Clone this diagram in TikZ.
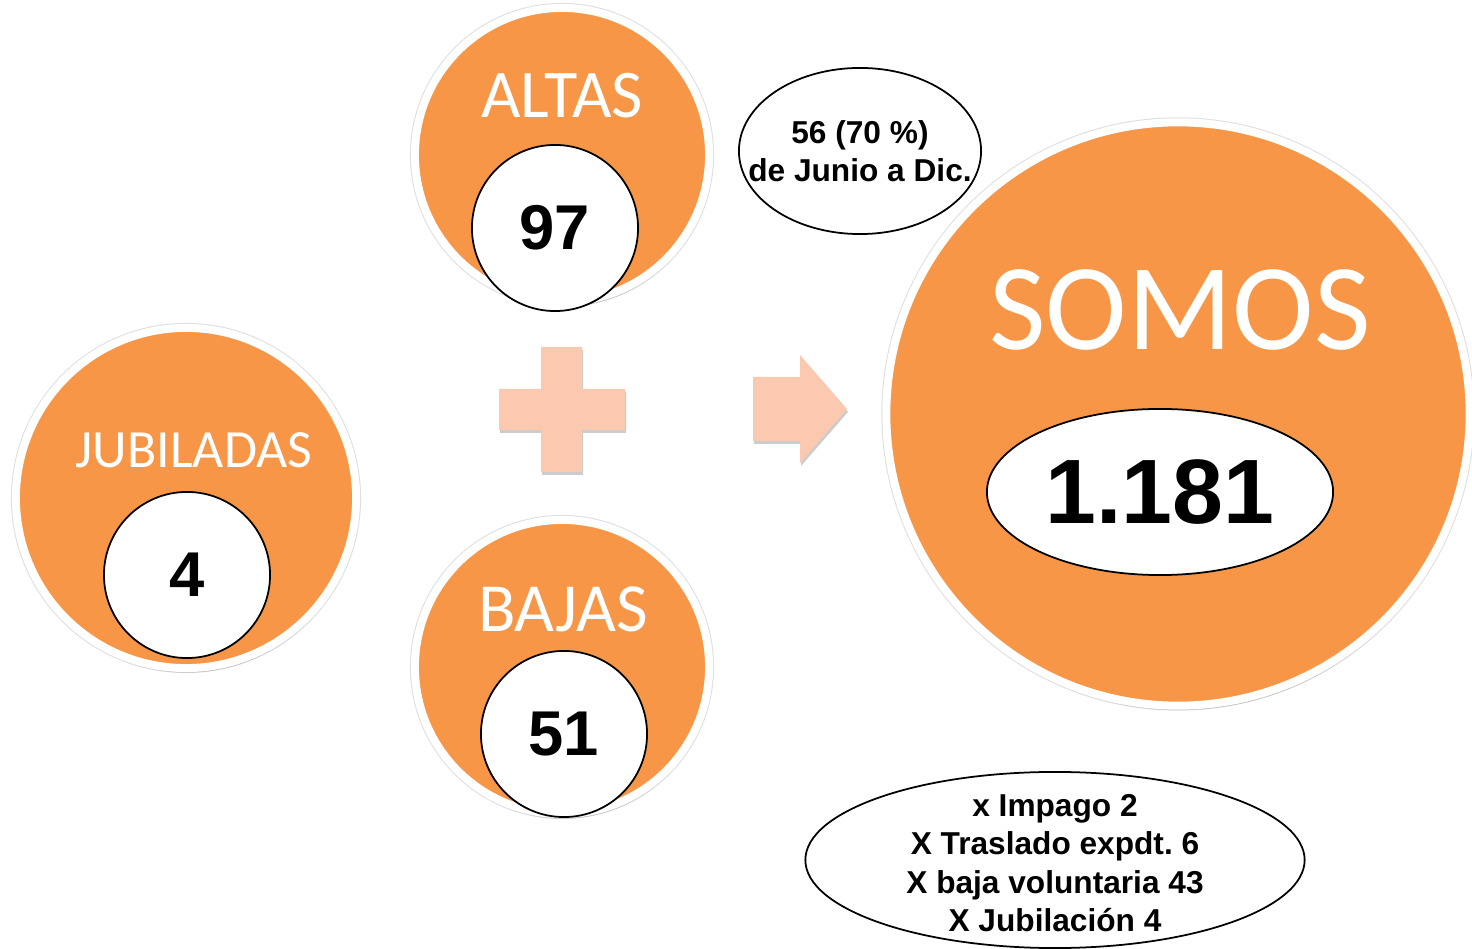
\documentclass[tikz,border=0pt]{standalone}
\usepackage{fontspec}
\setmainfont{Liberation Sans}
\newfontfamily\calibri{Carlito}
\usetikzlibrary{shapes.geometric,shadows}
\definecolor{naranja}{HTML}{F79646}
\definecolor{salmon}{HTML}{FAC9B0}

\begin{document}
\frenchspacing
\begin{tikzpicture}[x=0.01cm,y=-0.01cm]
        \tikzstyle{bola}=[circle,fill=naranja,draw=white,line width=0.08cm,inner sep=0pt,
            preaction={draw=black!13,line width=0.1cm},
            drop shadow={shadow xshift=0.01cm,shadow yshift=-0.045cm,opacity=0.15,fill=black}]
        \tikzstyle{cifra}=[circle,fill=white,draw=black,line width=0.5pt,minimum size=1.66cm,inner sep=0pt,
            font=\bfseries\fontsize{18}{20}\selectfont]
        \tikzstyle{nota}=[ellipse,fill=white,draw=black,line width=0.5pt,inner sep=0pt]
        \tikzstyle{texto}=[inner sep=0pt,align=center,font=\bfseries\fontsize{9}{10.9}\selectfont]
        \tikzstyle{titulo}=[text=white,inner sep=0pt,anchor=base]
        \tikzstyle{signo}=[fill=salmon,drop shadow={shadow xshift=0.01cm,shadow yshift=-0.03cm,opacity=0.2,fill=black}]
        \useasboundingbox (0,0) rectangle (1472,949);
        % circulos naranjas
        \node[bola,minimum size=2.94cm] (altas) at (562,155) {};
        \node[bola,minimum size=3.40cm] (jubiladas) at (186,498) {};
        \node[bola,minimum size=2.94cm] (bajas) at (562,667) {};
        \node[bola,minimum size=5.83cm] (somos) at (1178,414) {};
        \node[titulo,font=\calibri\fontsize{19.4}{20}\selectfont] (altas-t) at (562,118) {ALTAS};
        \node[titulo,font=\calibri\fontsize{15.3}{18}\selectfont] (jubiladas-t) at (194,468) {JUBILADAS};
        \node[titulo,font=\calibri\fontsize{19.6}{20}\selectfont] (bajas-t) at (563,632) {BAJAS};
        \node[titulo,font=\calibri\fontsize{35}{38}\selectfont] (somos-t) at (1180,350) {SOMOS};
        % cifras
        \node[cifra] (altas-n) at (555,228) {97};
        \node[cifra] (jubiladas-n) at (187,575) {4};
        \node[cifra] (bajas-n) at (564,734) {51};
        \node[nota,minimum width=3.46cm,minimum height=1.66cm,font=\bfseries\fontsize{26}{28}\selectfont] (somos-n) at (1160,492) {1.181};
        % signos
        \fill[signo] (541,347) -- (582,347) -- (582,389) -- (625,389) -- (625,430) -- (582,430)
            -- (582,472) -- (541,472) -- (541,430) -- (499,430) -- (499,389) -- (541,389) -- cycle;
        \fill[signo] (753,377) -- (800,377) -- (800,355) -- (847,409) -- (800,463) -- (800,441) -- (753,441) -- cycle;
        % notas
        \node[nota,minimum width=2.42cm,minimum height=1.66cm] (junio) at (860,151) {};
        \node[texto] (junio-t) at (junio) {56 (70 \%)\\de Junio a Dic.};
        \node[nota,minimum width=4.99cm,minimum height=1.76cm] (motivos) at (1055,860) {};
        \node[texto] (motivos-t) at ([yshift=-0.03cm]motivos) {x Impago 2\\X Traslado expdt. 6\\X baja voluntaria 43\\X Jubilación 4};
    \end{tikzpicture}
\end{document}
